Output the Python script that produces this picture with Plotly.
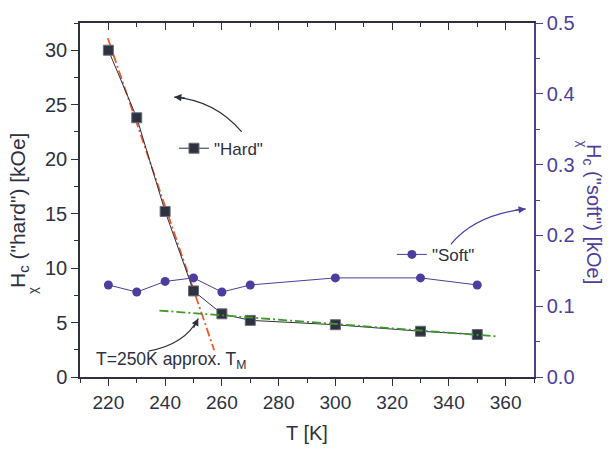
import plotly.graph_objects as go

# ---- data ----
T_hard = [220, 230, 240, 250, 260, 270, 300, 330, 350]
Hc_hard = [30.0, 23.8, 15.2, 7.9, 5.8, 5.2, 4.8, 4.2, 3.9]
T_soft = [220, 230, 240, 250, 260, 270, 300, 330, 350]
Hc_soft = [0.130, 0.120, 0.135, 0.140, 0.120, 0.130, 0.140, 0.140, 0.130]
fit_steep_T = [219.8, 257.3]
fit_steep_H = [31.1, 2.45]
fit_flat_T = [238, 357.5]
fit_flat_H = [6.1, 3.72]
x_ticks = [220, 240, 260, 280, 300, 320, 340, 360]

DARK = "#2e3140"
PURPLE = "#4b3e9e"
ORANGE = "#f0582a"
GREEN = "#3f9a2c"
FONT = "Liberation Sans, Arial, sans-serif"

fig = go.Figure()

fig.add_trace(go.Scatter(
    x=T_soft, y=Hc_soft, name='"Soft"', yaxis="y2", legend="legend2",
    mode="lines+markers",
    line=dict(color=PURPLE, width=1),
    marker=dict(symbol="circle", size=9, color=PURPLE),
))
fig.add_trace(go.Scatter(
    x=fit_steep_T, y=fit_steep_H, mode="lines", showlegend=False,
    line=dict(color=ORANGE, width=1.8, dash="9px,3px,2px,3px"),
))
fig.add_trace(go.Scatter(
    x=fit_flat_T, y=fit_flat_H, mode="lines", showlegend=False, xaxis="x2",
    line=dict(color=GREEN, width=1.8, dash="9px,3px,2px,3px"),
))
fig.add_trace(go.Scatter(
    x=T_hard, y=Hc_hard, name='"Hard"', legend="legend",
    mode="lines+markers",
    line=dict(color=DARK, width=1),
    marker=dict(symbol="square", size=10, color=DARK, line=dict(color="#6a6d78", width=1)),
))

# curved arrows (quadratic bezier) in data coordinates
def curve(p0, c, p2, color):
    fig.add_shape(type="path", xref="x", yref="y",
                  path=f"M {p0[0]},{p0[1]} Q {c[0]},{c[1]} {p2[0]},{p2[1]}",
                  line=dict(color=color, width=1.2))

def head(p, ax, ay, color):
    fig.add_annotation(x=p[0], y=p[1], xref="x", yref="y", text="",
                       showarrow=True, ax=ax, ay=ay, arrowhead=2, arrowsize=1.2,
                       arrowwidth=1.2, arrowcolor=color, standoff=0)

curve((267.0, 22.5), (257.6, 25.4), (243.2, 25.7), DARK)
head((243.2, 25.7), 12, 1, DARK)
curve((340.7, 12.18), (349.2, 14.9), (367.1, 15.43), PURPLE)
head((367.1, 15.43), -12, 1.4, PURPLE)
curve((234.1, 2.38), (247.0, 2.98), (251.7, 5.37), DARK)
head((251.7, 5.37), -5.4, 10.8, DARK)

fig.add_annotation(x=214.8, y=1.5, xref="x", yref="y", xanchor="left", yanchor="middle",
                   text="T=250K approx. T<sub>M</sub>", showarrow=False,
                   font=dict(family=FONT, size=17.5, color=DARK))

# axis titles
fig.add_annotation(x=-0.169, y=0.47, xref="paper", yref="paper", textangle=-90,
                   text='H<sub>c</sub> ("hard") [kOe]', showarrow=False,
                   font=dict(family=FONT, size=21, color=DARK))
fig.add_annotation(x=-0.124, y=0.228, xref="paper", yref="paper", textangle=-90,
                   text="χ", showarrow=False, font=dict(family=FONT, size=13, color=DARK))
fig.add_annotation(x=1.162, y=0.46, xref="paper", yref="paper", textangle=90,
                   text='H<sub>c</sub> ("soft") [kOe]', showarrow=False,
                   font=dict(family=FONT, size=20, color=PURPLE))
fig.add_annotation(x=1.127, y=0.675, xref="paper", yref="paper", textangle=90,
                   text="χ", showarrow=False, font=dict(family=FONT, size=13, color=PURPLE))

fig.update_layout(
    width=608, height=453,
    margin=dict(l=80, r=74, t=15, b=75),
    plot_bgcolor="white", paper_bgcolor="white",
    font=dict(family=FONT, size=18, color=DARK),
    xaxis=dict(range=[210, 370], tickvals=x_ticks, ticks="outside", ticklen=7,
               tickcolor=DARK, showline=True, linecolor=DARK, linewidth=1.5,
               showgrid=False, zeroline=False,
               minor=dict(dtick=10, tick0=210, ticks="outside", ticklen=4, tickcolor=DARK),
               title=dict(text="T [K]", font=dict(size=20), standoff=14),
               tickfont=dict(size=19, color=DARK)),
    xaxis2=dict(range=[210, 370], overlaying="x", side="top", matches="x",
                tickvals=x_ticks, ticks="inside", ticklen=7, tickcolor=DARK,
                showticklabels=False, showline=True, linecolor=DARK, linewidth=1.5,
                showgrid=False, zeroline=False,
                minor=dict(dtick=10, tick0=210, ticks="inside", ticklen=4, tickcolor=DARK)),
    yaxis=dict(range=[0, 32.5], dtick=5, ticks="outside", ticklen=7, tickcolor=DARK,
               showline=True, linecolor=DARK, linewidth=1.5, showgrid=False, zeroline=False,
               minor=dict(dtick=2.5, ticks="outside", ticklen=4, tickcolor=DARK),
               tickfont=dict(size=20, color=DARK)),
    yaxis2=dict(range=[0, 0.5], dtick=0.1, tickformat=".1f", overlaying="y", side="right",
                ticks="outside", ticklen=7, tickcolor=PURPLE, showline=True,
                linecolor=PURPLE, linewidth=1.5, showgrid=False, zeroline=False,
                minor=dict(dtick=0.05, ticks="outside", ticklen=4, tickcolor=PURPLE),
                tickfont=dict(size=20, color=PURPLE)),
    legend=dict(x=0.207, y=0.645, xanchor="left", yanchor="middle",
                bgcolor="rgba(0,0,0,0)", font=dict(size=17, color=DARK)),
    legend2=dict(x=0.687, y=0.345, xanchor="left", yanchor="middle",
                 bgcolor="rgba(0,0,0,0)", font=dict(size=17, color=DARK)),
)

fig.write_html("out.html")
